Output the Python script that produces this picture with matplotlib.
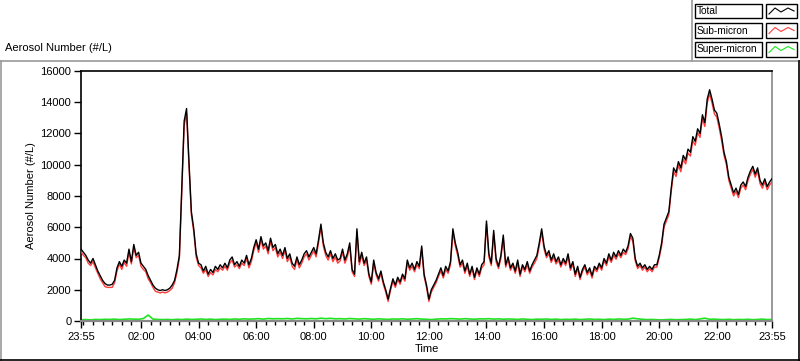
import numpy as np
import matplotlib
matplotlib.use("Agg")
from matplotlib import pyplot as plt
from matplotlib.patches import Rectangle
from matplotlib.lines import Line2D

# 5-minute samples, starting 23:55
total = [
    4600, 4400, 4200, 3900, 3700, 4000, 3600, 3200, 2900, 2600, 2400, 2300,
    2300, 2350, 2600, 3400, 3800, 3500, 3900, 3700, 4600, 3800, 4900, 4200,
    4400, 3700, 3500, 3300, 2900, 2600, 2300, 2100, 2000, 1950, 2000, 1950,
    2000, 2100, 2300, 2600, 3300, 4200, 8500, 12800, 13600, 10200, 7000, 5900,
    4300, 3700, 3600, 3200, 3500, 3000, 3300, 3100, 3500, 3300, 3600, 3400,
    3700, 3400, 3900, 4100, 3600, 3800, 3500, 3900, 3700, 4200, 3600, 4000,
    4700, 5200, 4600, 5400, 4800, 5000, 4500, 5300, 4700, 4900, 4300, 4600,
    4200, 4700, 4000, 4300, 3700, 3500, 4100, 3600, 3900, 4300, 4500, 4100,
    4400, 4700, 4300, 5200, 6200, 5000, 4400, 4100, 4500, 4000, 4300, 3900,
    4000, 4600, 3900, 4300, 5000, 3300, 3000, 5900, 3800, 4400, 3700, 4100,
    3000, 2500, 3900, 3100, 2700, 3200, 2500, 2000, 1400, 2100, 2700, 2300,
    2800, 2500, 3000, 2700, 3900, 3400, 3700, 3300, 3800, 3500, 4800, 3000,
    2300, 1400, 2000, 2300, 2600, 3000, 3400, 2900, 3500, 3200, 3800, 5900,
    5000, 4400, 3600, 3900, 3200, 3700, 3000, 3500, 2800, 3400, 3000, 3600,
    3800, 6400, 4300, 3700, 5800, 4000, 3500, 4200, 5500, 3600, 4100, 3400,
    3700, 3200, 3900, 3000, 3600, 3300, 3800, 3200, 3600, 3900, 4200, 5000,
    5900, 4800, 4200, 4500, 3900, 4300, 3800, 4100, 3600, 4000, 3700, 4300,
    3400, 3800, 3000, 3500, 2800, 3300, 3600, 3100, 3400, 2900, 3500, 3300,
    3700, 3400, 4000, 3700, 4300, 3900, 4400, 4100, 4500, 4200, 4600, 4400,
    4800, 5600, 5300, 4000, 3500, 3700, 3400, 3600, 3300, 3500, 3300, 3600,
    3600, 4200, 5000, 6200, 6600, 7000, 8500, 9800, 9500, 10200, 9800, 10600,
    10300, 11000, 10800, 11800, 11500, 12300, 12000, 13200, 12700, 14200, 14800, 14200,
    13500, 13300, 12600, 11800, 10800, 10200, 9200, 8700, 8200, 8500, 8100, 8700,
    8900, 8600, 9200, 9600, 9900, 9400, 9800, 9000, 8700, 9100, 8600, 8900, 9100,
]

sub_micron = [
    4450, 4200, 4050, 3700, 3550, 3800, 3400, 3050, 2700, 2450, 2200, 2150,
    2150, 2150, 2450, 3200, 3650, 3300, 3750, 3500, 4400, 3650, 4700, 4050,
    4200, 3500, 3300, 3150, 2700, 2450, 2150, 1900, 1850, 1800, 1850, 1800,
    1850, 1950, 2100, 2450, 3100, 4000, 8200, 12500, 13300, 9950, 6800, 5700,
    4100, 3550, 3400, 3050, 3300, 2850, 3100, 2950, 3300, 3150, 3400, 3250,
    3500, 3250, 3700, 3900, 3450, 3600, 3350, 3700, 3550, 4000, 3400, 3800,
    4500, 5000, 4400, 5200, 4600, 4800, 4300, 5100, 4500, 4700, 4100, 4400,
    4000, 4500, 3800, 4100, 3500, 3300, 3900, 3400, 3700, 4100, 4300, 3900,
    4200, 4500, 4100, 5000, 6000, 4800, 4200, 3900, 4300, 3800, 4100, 3700,
    3850, 4400, 3700, 4100, 4800, 3150, 2850, 5700, 3600, 4200, 3550, 3900,
    2850, 2350, 3700, 2950, 2550, 3050, 2350, 1850, 1250, 1950, 2550, 2150,
    2650, 2350, 2850, 2550, 3700, 3250, 3500, 3150, 3600, 3350, 4600, 2850,
    2150, 1250, 1850, 2150, 2450, 2850, 3200, 2750, 3300, 3050, 3600, 5700,
    4800, 4200, 3450, 3700, 3050, 3500, 2850, 3350, 2650, 3250, 2850, 3400,
    3600, 6200, 4100, 3550, 5600, 3800, 3350, 4000, 5300, 3450, 3900, 3250,
    3550, 3050, 3700, 2850, 3450, 3150, 3600, 3050, 3450, 3700, 4000, 4800,
    5700, 4600, 4050, 4300, 3750, 4100, 3650, 3900, 3450, 3850, 3550, 4100,
    3250, 3650, 2850, 3350, 2650, 3150, 3450, 2950, 3250, 2750, 3350, 3150,
    3550, 3250, 3850, 3550, 4100, 3750, 4200, 3950, 4300, 4050, 4400, 4250,
    4600, 5400, 5100, 3850, 3350, 3550, 3250, 3450, 3150, 3350, 3150, 3450,
    3450, 4050, 4800, 6000, 6400, 6800, 8300, 9550, 9250, 9950, 9550, 10350,
    10050, 10750, 10550, 11550, 11250, 12050, 11750, 12950, 12450, 13950, 14550, 13950,
    13250, 13050, 12350, 11550, 10600, 10000, 9000, 8500, 8000, 8300, 7900, 8500,
    8700, 8400, 9000, 9400, 9700, 9200, 9600, 8800, 8500, 8900, 8400, 8700, 8900,
]

# 10-minute samples, starting 23:55
super_micron = [
    80, 90, 70, 100, 90, 110,
    100, 120, 90, 110, 130, 120,
    110, 160, 380, 120, 100, 90,
    100, 80, 110, 90, 120, 100,
    110, 130, 100, 120, 90, 110,
    120, 100, 130, 110, 140, 120,
    130, 150, 120, 160, 140, 150,
    140, 160, 130, 170, 150, 140,
    160, 140, 180, 150, 170, 140,
    150, 130, 160, 140, 120, 150,
    130, 110, 140, 120, 100, 130,
    120, 140, 110, 130, 150, 120,
    110, 90, 120, 140, 130, 150,
    140, 120, 150, 130, 110, 140,
    130, 150, 120, 140, 110, 130,
    120, 100, 130, 110, 90, 120,
    110, 130, 100, 120, 90, 110,
    100, 120, 90, 110, 130, 100,
    110, 90, 120, 100, 130, 110,
    120, 180, 140, 110, 90, 100,
    80, 70, 90, 100, 80, 90,
    100, 120, 90, 130, 180, 110,
    120, 100, 90, 110, 80, 100,
    90, 110, 80, 100, 120, 90, 100,
]

tick_labels = ["23:55", "02:00", "04:00", "06:00", "08:00", "10:00", "12:00",
               "14:00", "16:00", "18:00", "20:00", "22:00", "23:55"]

# hours since 23:55
t5 = np.arange(len(total)) / 12.0
t10 = np.arange(len(super_micron)) / 6.0

W, H = 800, 361
plt.rcParams['font.family'] = ['Liberation Sans', 'DejaVu Sans']
plt.rcParams['font.size'] = 8

fig = plt.figure(figsize=(W / 100, H / 100), dpi=100)
ax = fig.add_axes([81 / W, 1 - 321 / H, (772 - 81) / W, (321 - 71) / H])

ax.plot(t10, super_micron, color='#1ee61e', lw=1.2, zorder=2)
ax.plot(t5, sub_micron, color='#ff3b3b', lw=1.0, zorder=3)
ax.plot(t5, total, color='black', lw=1.0, zorder=4)

ax.set_xlim(0, 24)
ax.set_ylim(0, 16000)

off = 5 / 60.0  # 23:55 -> 00:00
major = [0] + [off + h for h in range(2, 24, 2)] + [24]
ax.set_xticks(major)
ax.set_xticklabels(tick_labels)
ax.set_xticks([off + k / 3.0 for k in range(72)], minor=True)
ax.set_yticks(range(0, 16001, 2000))

ax.tick_params(axis='x', which='major', length=5, width=1, direction='out', pad=3, colors='black')
ax.tick_params(axis='x', which='minor', length=3, width=1, direction='out', colors='black')
ax.tick_params(axis='y', length=5, width=1, direction='out', pad=2)

for s in ['left', 'top']:
    ax.spines[s].set_color('black')
    ax.spines[s].set_linewidth(1.2)
ax.spines['right'].set_color('#888888')
ax.spines['right'].set_linewidth(1.2)
ax.spines['bottom'].set_color('#888888')
ax.spines['bottom'].set_linewidth(1.6)

ax.set_xlabel('Time', labelpad=1)
ax.set_ylabel('Aerosol Number (#/L)', labelpad=3)

fig.text(5 / W, 1 - 48 / H, 'Aerosol Number (#/L)', ha='left', va='center')


def fx(x):
    return x / W


def fy(y):
    return 1 - y / H


# panel border
fig.add_artist(Line2D([fx(0), fx(800)], [fy(61), fy(61)], color='#9a9a9a', lw=1.2))
fig.add_artist(Line2D([fx(0.7), fx(0.7)], [fy(61), fy(361)], color='#9a9a9a', lw=1.2))
fig.add_artist(Line2D([fx(798.5), fx(798.5)], [fy(61), fy(361)], color='black', lw=1.2))
fig.add_artist(Line2D([fx(0), fx(800)], [fy(359.5), fy(359.5)], color='black', lw=1.2))
fig.add_artist(Line2D([fx(692), fx(692)], [fy(0), fy(61)], color='#9a9a9a', lw=1.2))

# legend
names = ['Total', 'Sub-micron', 'Super-micron']
colors = ['black', '#ff3b3b', '#1ee61e']
rows = [(4, 18), (23, 38), (42, 57)]
for name, c, (y0, y1) in zip(names, colors, rows):
    fig.add_artist(Rectangle((fx(695), fy(y1)), fx(762) - fx(695), fy(y0) - fy(y1),
                             fill=False, ec='black', lw=1.0))
    fig.add_artist(Rectangle((fx(766), fy(y1)), fx(797) - fx(766), fy(y0) - fy(y1),
                             fill=False, ec='black', lw=1.0))
    fig.text(fx(697), fy((y0 + y1) / 2), name, ha='left', va='center', fontsize=7.3)
    ym = (y0 + y1) / 2
    zx = [769, 775, 781, 788, 794]
    zy = [ym + 3, ym - 3, ym + 1, ym - 3, ym]
    fig.add_artist(Line2D([fx(v) for v in zx], [fy(v) for v in zy], color=c, lw=0.8))

fig.savefig('out.png', dpi=100)
